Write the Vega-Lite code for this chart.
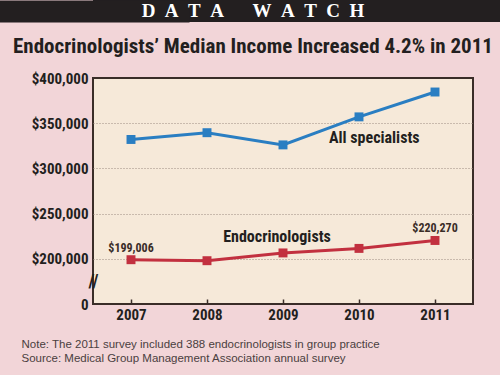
{
  "$schema": "https://vega.github.io/schema/vega-lite/v6.json",
  "background": "#f2d5d8",
  "padding": {"left": 0, "top": 0, "right": 0, "bottom": 10},
  "spacing": 13,
  "columns": 1,
  "align": "none",
  "config": {"view": {"stroke": null}},
  "concat": [
    {
      "width": 408,
      "height": 22,
      "view": {"fill": "#231f20", "stroke": null},
      "data": {"values": [{"row": "header", "label": "D\u2002A\u2002T\u2002A\u2003\u2002W\u2002A\u2002T\u2002C\u2002H"}]},
      "mark": {"type": "text", "dx": -44, "font": "Liberation Serif, DejaVu Serif, serif", "fontWeight": "bold", "fontSize": 19, "color": "#ffffff"},
      "encoding": {
        "text": {"field": "label"},
        "y": {
          "field": "row",
          "type": "nominal",
          "axis": {"labels": false, "ticks": false, "title": null, "domain": true, "domainColor": "#231f20", "domainWidth": 192, "minExtent": 92, "maxExtent": 92}
        }
      }
    },
    {
      "width": 380,
      "height": 226,
      "title": {
        "text": "Endocrinologists’ Median Income Increased 4.2% in 2011",
        "anchor": "start",
        "frame": "group",
        "dx": -80,
        "offset": 14,
        "font": "Roboto Condensed, Roboto, sans-serif",
        "fontWeight": "bold",
        "fontSize": 21,
        "color": "#231f20"
      },
      "view": {"fill": "#f6e9d9", "stroke": "#3a2d28", "strokeWidth": 2},
      "data": {
        "values": [
          {"series": "All specialists", "year": 2007, "value": 332000},
          {"series": "All specialists", "year": 2008, "value": 339500},
          {"series": "All specialists", "year": 2009, "value": 326000},
          {"series": "All specialists", "year": 2010, "value": 357000},
          {"series": "All specialists", "year": 2011, "value": 384500},
          {"series": "Endocrinologists", "year": 2007, "value": 199006},
          {"series": "Endocrinologists", "year": 2008, "value": 197900},
          {"series": "Endocrinologists", "year": 2009, "value": 206500},
          {"series": "Endocrinologists", "year": 2010, "value": 211500},
          {"series": "Endocrinologists", "year": 2011, "value": 220270}
        ]
      },
      "encoding": {
        "x": {
          "field": "year",
          "type": "quantitative",
          "scale": {"domain": [2006.5, 2011.5], "nice": false, "zero": false},
          "axis": {
            "values": [2007, 2008, 2009, 2010, 2011],
            "format": "d",
            "grid": false,
            "domain": false,
            "tickSize": -5,
            "tickWidth": 1.5,
            "tickColor": "#3a2d28",
            "labelPadding": 8,
            "labelFlush": false,
            "labelFont": "Roboto Condensed, Roboto, sans-serif",
            "labelFontWeight": "bold",
            "labelFontSize": 15,
            "labelColor": "#231f20",
            "title": ["Note: The 2011 survey included 388 endocrinologists in group practice", "Source: Medical Group Management Association annual survey"],
            "titleFont": "Liberation Sans, Arial, sans-serif",
            "titleFontWeight": "normal",
            "titleFontSize": 11.5,
            "titleColor": "#4a4040",
            "titleAnchor": "start",
            "titleAlign": "left",
            "titleBaseline": "top",
            "titleLineHeight": 14.5,
            "titleX": -72,
            "titleY": 34
          }
        },
        "y": {
          "field": "value",
          "type": "quantitative",
          "scale": {"domain": [150000, 400000], "nice": false, "zero": false},
          "axis": {
            "values": [150000, 175000, 200000, 250000, 300000, 350000, 400000],
            "labelExpr": "datum.value == 150000 ? '0' : datum.value == 175000 ? '//' : '$' + format(datum.value, ',')",
            "labelOverlap": false,
            "labelFlush": false,
            "domain": false,
            "ticks": false,
            "minExtent": 92,
            "maxExtent": 92,
            "labelPadding": {"condition": {"test": "datum.value == 175000", "value": 0}, "value": 5},
            "labelAlign": {"condition": {"test": "datum.value == 175000", "value": "center"}, "value": "right"},
            "labelFontSize": {"condition": {"test": "datum.value == 175000", "value": 18}, "value": 15},
            "labelFont": "Roboto Condensed, Roboto, sans-serif",
            "labelFontWeight": "bold",
            "labelColor": "#231f20",
            "grid": true,
            "gridDash": [1, 2],
            "gridColor": "#9c8b80",
            "gridWidth": 1,
            "gridOpacity": {"condition": {"test": "datum.value == 150000 || datum.value == 175000 || datum.value == 400000", "value": 0}, "value": 1},
            "title": null
          }
        },
        "color": {
          "field": "series",
          "type": "nominal",
          "scale": {"domain": ["All specialists", "Endocrinologists"], "range": ["#2a7ec2", "#c2303f"]},
          "legend": null
        }
      },
      "layer": [
        {
          "mark": {"type": "line", "strokeWidth": 3, "point": {"filled": true, "shape": "square", "size": 80}}
        },
        {
          "transform": [{"filter": "datum.series == 'Endocrinologists' && (datum.year == 2007 || datum.year == 2011)"}],
          "mark": {"type": "text", "dy": -12, "font": "Roboto Condensed, Roboto, sans-serif", "fontWeight": "bold", "fontSize": 12, "color": "#3a2d28"},
          "encoding": {"text": {"field": "value", "type": "quantitative", "format": "$,"}, "color": {"value": "#3a2d28"}}
        },
        {
          "transform": [{"filter": "datum.series == 'All specialists' && datum.year == 2010"}],
          "mark": {"type": "text", "align": "left", "dx": -30, "dy": 21, "font": "Roboto Condensed, Roboto, sans-serif", "fontWeight": "bold", "fontSize": 16},
          "encoding": {"text": {"field": "series"}, "color": {"value": "#231f20"}}
        },
        {
          "transform": [{"filter": "datum.series == 'Endocrinologists' && datum.year == 2009"}],
          "mark": {"type": "text", "align": "center", "dx": -6, "dy": -16, "font": "Roboto Condensed, Roboto, sans-serif", "fontWeight": "bold", "fontSize": 16},
          "encoding": {"text": {"field": "series"}, "color": {"value": "#231f20"}}
        }
      ]
    }
  ]
}
